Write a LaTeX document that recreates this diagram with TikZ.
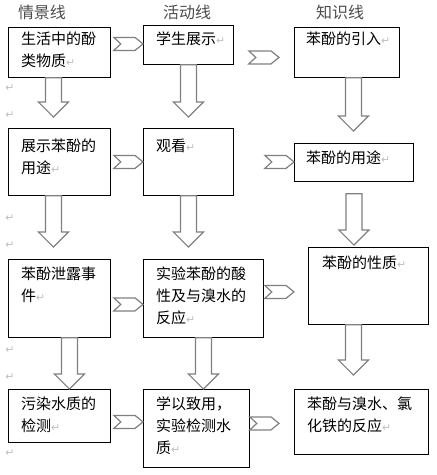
\documentclass[tikz,border=0pt]{standalone}
\usepackage{fontspec}
\setmainfont{Noto Sans CJK SC}
\newfontfamily\symfont{DejaVu Sans}
\usetikzlibrary{calc}

\newcommand\retmark{{\symfont\color{gray!50}\fontsize{11}{11}\selectfont ↵}}
\newcommand\blockdown[2]{\draw[blockarrow] let \p1=#1, \p2=#2 in
  (\x1-8pt,\y1) -- (\x1-8pt,\y2+15pt) -- (\x1-15pt,\y2+15pt) -- (\x1,\y2)
  -- (\x1+15pt,\y2+15pt) -- (\x1+8pt,\y2+15pt) -- (\x1+8pt,\y1) -- cycle;}
\newcommand\chevron[2]{\draw[blockarrow] let \p1=#1, \p2=#2 in
  (\x1,\y1+6.5pt) -- (\x2-8pt,\y1+6.5pt) -- (\x2,\y1) -- (\x2-8pt,\y1-6.5pt)
  -- (\x1,\y1-6.5pt) -- (\x1+7pt,\y1) -- cycle;}

\tikzset{
  box/.style={draw, line width=0.8pt, inner sep=0pt, anchor=north west},
  txt/.style={anchor=north west, inner sep=0pt, align=left, font=\fontsize{15}{22}\selectfont},
  head/.style={inner sep=0pt, text=black!70, font=\fontsize{16}{16}\selectfont},
  blockarrow/.style={draw=gray, line width=1.2pt, fill=white, line join=miter},
  margin/.style={inner sep=0pt}
}

\begin{document}
\begin{tikzpicture}[x=1pt,y=-1pt]
\useasboundingbox (0,0) rectangle (437,475);

\node[head] (h1) at (42,12) {情景线};
\node[head] (h2) at (187,12) {活动线};
\node[head] (h3) at (340,12) {知识线};

\begin{scope}
\node[box, minimum width=102pt, minimum height=50pt] (a1) at (8,27) {};
\node[box, minimum width=102pt, minimum height=67pt] (a2) at (8,128) {};
\node[box, minimum width=102pt, minimum height=78pt] (a3) at (8,259) {};
\node[box, minimum width=102pt, minimum height=53pt] (a4) at (8,389) {};
\node[txt] (a1t) at ([xshift=13pt,yshift=-5pt]a1.north west) {生活中的酚\\类物质\retmark};
\node[txt] (a2t) at ([xshift=13pt,yshift=-11pt]a2.north west) {展示苯酚的\\用途\retmark};
\node[txt] (a3t) at ([xshift=13pt,yshift=-8pt]a3.north west) {苯酚泄露事\\件\retmark};
\node[txt] (a4t) at ([xshift=13pt,yshift=-8pt]a4.north west) {污染水质的\\检测\retmark};
\end{scope}

\begin{scope}
\node[box, minimum width=90pt, minimum height=39pt] (b1) at (143,25) {};
\node[box, minimum width=90pt, minimum height=67pt] (b2) at (143,128) {};
\node[box, minimum width=120pt, minimum height=78pt] (b3) at (143,259) {};
\node[box, minimum width=106pt, minimum height=78pt] (b4) at (143,389) {};
\node[txt] (b1t) at ([xshift=13pt,yshift=-7pt]b1.north west) {学生展示\retmark};
\node[txt] (b2t) at ([xshift=13pt,yshift=-11pt]b2.north west) {观看\retmark};
\node[txt] (b3t) at ([xshift=13pt,yshift=-8pt]b3.north west) {实验苯酚的酸\\性及与溴水的\\反应\retmark};
\node[txt] (b4t) at ([xshift=13pt,yshift=-8pt]b4.north west) {学以致用，\\实验检测水\\质\retmark};
\end{scope}

\begin{scope}
\node[box, minimum width=105pt, minimum height=50pt] (c1) at (294,27) {};
\node[box, minimum width=119pt, minimum height=38pt] (c2) at (294,143) {};
\node[box, minimum width=120pt, minimum height=77pt] (c3) at (308,247) {};
\node[box, minimum width=134pt, minimum height=65pt] (c4) at (294,389) {};
\node[txt] (c1t) at ([xshift=12pt,yshift=-5pt]c1.north west) {苯酚的引入\retmark};
\node[txt] (c2t) at ([xshift=12pt,yshift=-8pt]c2.north west) {苯酚的用途\retmark};
\node[txt] (c3t) at ([xshift=14pt,yshift=-9pt]c3.north west) {苯酚的性质\retmark};
\node[txt] (c4t) at ([xshift=13pt,yshift=-8pt]c4.north west) {苯酚与溴水、氯\\化铁的反应\retmark};
\end{scope}

\node[margin] (m1) at (10,88) {\retmark};
\node[margin] (m2) at (10,115) {\retmark};
\node[margin] (m3) at (10,218) {\retmark};
\node[margin] (m4) at (10,245) {\retmark};
\node[margin] (m5) at (10,350) {\retmark};
\node[margin] (m6) at (10,377) {\retmark};
\node[margin] (m7) at (10,453) {\retmark};

\blockdown{([xshift=-6pt]a1.south)}{([yshift=11pt]a2.north)}
\blockdown{(b1.south)}{([yshift=11pt]b2.north)}
\blockdown{([xshift=6.5pt]c1.south)}{([yshift=12pt]c2.north)}
\blockdown{([xshift=-6pt]a2.south)}{([yshift=12pt]a3.north)}
\blockdown{(b2.south)}{([yshift=12pt]b3.north)}
\blockdown{([yshift=-12pt]c2.south)}{([yshift=2pt]c3.north)}
\blockdown{([xshift=10pt]a3.south)}{(a4.north)}
\blockdown{(b3.south)}{(b4.north)}
\blockdown{([xshift=-15pt]c3.south)}{([yshift=14pt]c4.north)}

\chevron{([xshift=3pt,yshift=8.5pt]a1.east)}{(b1.west)}
\chevron{([xshift=15pt,yshift=-12.5pt]b1.east)}{([xshift=-15pt]c1.west)}
\chevron{([xshift=3pt]a2.east)}{(b2.west)}
\chevron{([xshift=31pt]b2.east)}{(c2.west)}
\chevron{([xshift=3pt,yshift=-6pt]a3.east)}{(b3.west)}
\chevron{([xshift=1pt,yshift=6.5pt]b3.east)}{([xshift=-14pt]c3.west)}
\chevron{([xshift=3pt,yshift=-6pt]a4.east)}{(b4.west)}
\chevron{([yshift=5pt]b4.east)}{([xshift=-15pt]c4.west)}
\end{tikzpicture}
\end{document}
